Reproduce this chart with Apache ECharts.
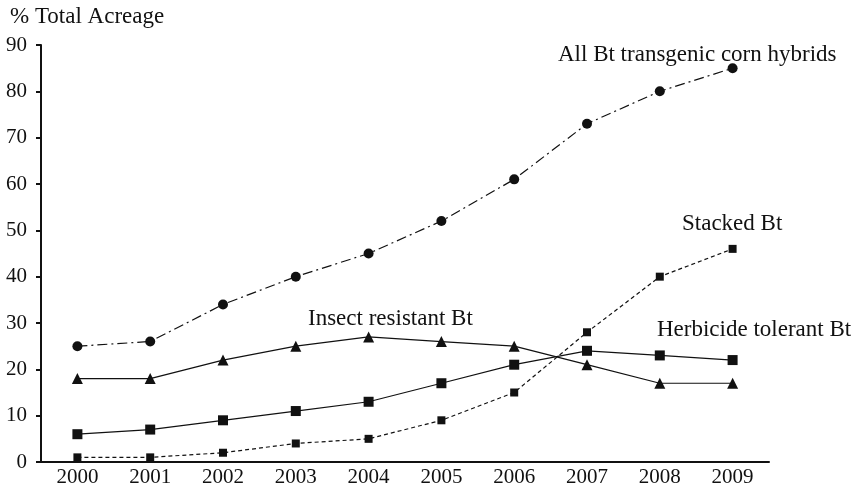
<!DOCTYPE html>
<html>
<head>
<meta charset="utf-8">
<script src="https://cdn.jsdelivr.net/npm/echarts@6/dist/echarts.min.js"></script>
<style>
  html, body { margin: 0; padding: 0; background: #fff; }
  #chart { width: 854px; height: 489px; }
</style>
</head>
<body>
<div id="chart"></div>
<script>
const years = ["2000", "2001", "2002", "2003", "2004", "2005", "2006", "2007", "2008", "2009"];
const allBt = [25, 26, 34, 40, 45, 52, 61, 73, 80, 85];
const insectResistant = [18, 18, 22, 25, 27, 26, 25, 21, 17, 17];
const herbicideTolerant = [6, 7, 9, 11, 13, 17, 21, 24, 23, 22];
const stackedBt = [1, 1, 2, 4, 5, 9, 15, 28, 40, 46];

const font = "Liberation Serif";
const chart = echarts.init(document.getElementById("chart"));

const line = (name, data, symbol, size, type) => ({
  name: name,
  type: "line",
  data: data,
  symbol: symbol,
  symbolSize: size,
  itemStyle: { color: "#111" },
  lineStyle: { color: "#111", width: 1.2, type: type },
  animation: false,
});

chart.setOption({
  grid: { left: 41, right: 85, top: 45, bottom: 27 },
  xAxis: {
    type: "category",
    data: years,
    boundaryGap: true,
    axisLine: { lineStyle: { color: "#111", width: 2 } },
    axisTick: { length: 6, lineStyle: { color: "#111", width: 2 } },
    axisLabel: { color: "#111", fontFamily: font, fontSize: 21, margin: 5 },
  },
  yAxis: {
    type: "value",
    min: 0,
    max: 90,
    interval: 10,
    splitLine: { show: false },
    axisLine: { show: true, lineStyle: { color: "#111", width: 2 } },
    axisTick: { show: true, length: 5, lineStyle: { color: "#111", width: 2 } },
    axisLabel: { color: "#111", fontFamily: font, fontSize: 21, margin: 14 },
  },
  series: [
    line("All Bt transgenic corn hybrids", allBt, "circle", 10, [10, 4, 2, 4]),
    line("Insect resistant Bt", insectResistant, "triangle", 11, "solid"),
    line("Herbicide tolerant Bt", herbicideTolerant, "rect", 10, "solid"),
    line("Stacked Bt", stackedBt, "rect", 8, [4, 3]),
  ],
  graphic: [
    { type: "text", left: 10, top: 5, style: { text: "% Total Acreage", font: "23px " + font, fill: "#111" } },
    { type: "text", left: 558, top: 43, style: { text: "All Bt transgenic corn hybrids", font: "23px " + font, fill: "#111" } },
    { type: "text", left: 682, top: 212, style: { text: "Stacked Bt", font: "23px " + font, fill: "#111" } },
    { type: "text", left: 308, top: 307, style: { text: "Insect resistant Bt", font: "23px " + font, fill: "#111" } },
    { type: "text", left: 657, top: 318, style: { text: "Herbicide tolerant Bt", font: "23px " + font, fill: "#111" } },
  ],
});
</script>
</body>
</html>
